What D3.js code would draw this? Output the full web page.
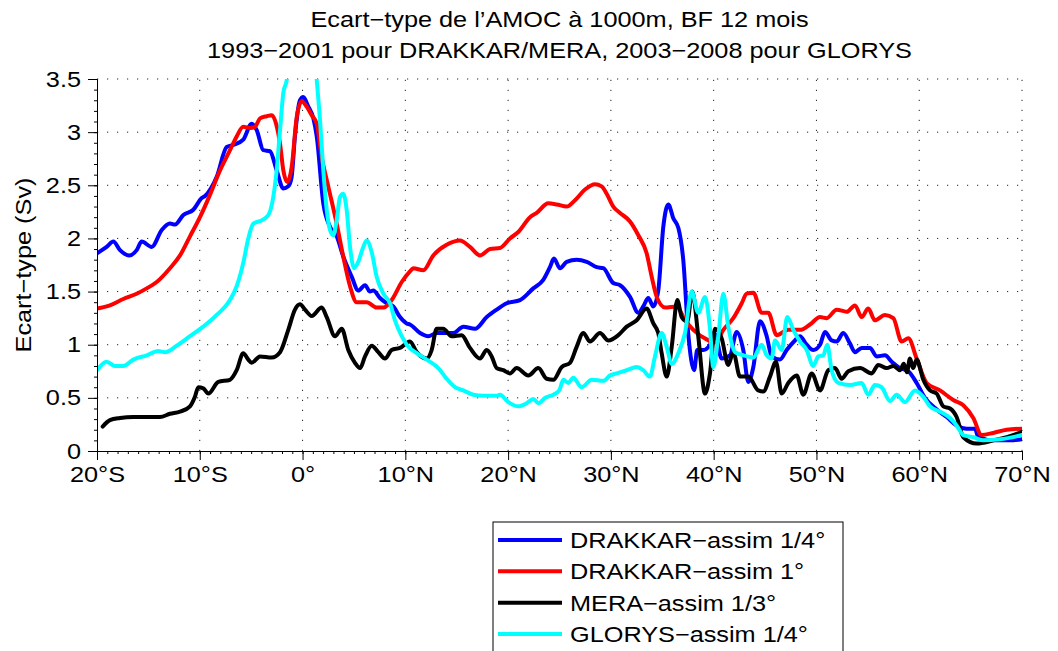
<!DOCTYPE html>
<html>
<head>
<meta charset="utf-8">
<script src="https://cdn.jsdelivr.net/npm/d3@7"></script>
<style>
  html, body { margin: 0; padding: 0; background: #fff; }
  svg { display: block; }
</style>
</head>
<body>
<svg id="chart" width="1058" height="651"></svg>
<script>
// ---- Text and tick labels ----
const titleLines = [
  "Ecart\u2212type de l\u2019AMOC \u00e0 1000m, BF 12 mois",
  "1993\u22122001 pour DRAKKAR/MERA, 2003\u22122008 pour GLORYS"
];
const yAxisLabel = "Ecart\u2212type (Sv)";
const xTicks = [-20, -10, 0, 10, 20, 30, 40, 50, 60, 70];
const xTickLabels = ["20°S", "10°S", "0°", "10°N", "20°N", "30°N", "40°N", "50°N", "60°N", "70°N"];
const yTicks = [0, 0.5, 1, 1.5, 2, 2.5, 3, 3.5];
const yTickLabels = ["0", "0.5", "1", "1.5", "2", "2.5", "3", "3.5"];
const seriesNames = ["DRAKKAR\u2212assim 1/4°", "DRAKKAR\u2212assim 1°", "MERA\u2212assim 1/3°", "GLORYS\u2212assim 1/4°"];
const seriesColors = ["#0000ff", "#ff0000", "#000000", "#00ffff"];

// ---- Standard deviation of the AMOC at 1000 m, [latitude, Sv] ----
const drakkarQuarter = [
  [-20,1.86],[-19.06,1.92],[-18.41,1.97],[-17.76,1.89],[-16.86,1.84],[-16.14,1.89],[-15.65,1.97],[-14.68,1.92],
  [-13.7,2.08],[-12.9,2.14],[-12.41,2.13],[-11.6,2.22],[-10.63,2.27],[-9.81,2.38],[-9.49,2.4],[-8.35,2.58],
  [-7.38,2.86],[-6.74,2.88],[-5.77,2.93],[-4.95,3.08],[-4.46,3.02],[-3.82,2.83],[-3.17,2.82],[-2.52,2.64],
  [-1.87,2.47],[-1.39,2.49],[-1.06,2.58],[-0.74,2.96],[-0.25,3.3],[0.07,3.33],[0.56,3.24],[1.05,3.13],
  [1.38,2.96],[2.02,2.33],[2.67,2.11],[3.32,2.02],[3.96,1.83],[4.78,1.64],[5.42,1.51],[6.08,1.56],
  [6.56,1.5],[6.88,1.51],[7.53,1.44],[8.19,1.39],[8.83,1.36],[9.48,1.26],[10.13,1.2],[10.45,1.19],
  [11.43,1.11],[12.23,1.08],[13.05,1.11],[14.67,1.11],[15.64,1.17],[16.78,1.15],[17.92,1.26],[18.89,1.33],
  [19.86,1.39],[21.16,1.42],[22.45,1.53],[23.42,1.61],[24.07,1.73],[24.46,1.81],[25.05,1.72],[25.7,1.78],
  [26.67,1.8],[27.65,1.78],[28.62,1.73],[29.26,1.72],[30.23,1.58],[30.89,1.56],[31.86,1.45],[32.67,1.3],
  [33.15,1.36],[33.64,1.44],[34.13,1.36],[34.61,1.51],[35.1,2.11],[35.59,2.32],[36.07,2.19],[36.56,2.1],
  [37.04,1.8],[37.53,1.1],[38.1,0.76],[38.4,0.95],[38.99,0.95],[39.64,1.0],[40.13,1.1],[40.78,0.87],
  [41.59,0.9],[42.24,1.12],[42.88,0.95],[43.37,0.65],[43.86,0.79],[44.51,1.22],[45.16,1.08],[45.64,0.89],
  [46.45,0.86],[47.1,0.95],[47.91,1.04],[48.4,1.08],[49.05,1.0],[49.69,0.95],[50.35,1.0],[50.83,1.12],
  [51.48,1.04],[51.97,1.03],[52.61,1.11],[53.27,1.01],[53.75,0.93],[54.4,0.97],[55.21,0.97],[55.86,0.89],
  [56.67,0.9],[57.32,0.84],[58.13,0.78],[58.94,0.75],[59.75,0.64],[60.56,0.5],[61.7,0.39],[62.67,0.32],
  [63.64,0.24],[64.62,0.21],[65.42,0.21],[65.75,0.13],[67.21,0.1],[68.83,0.1],[70,0.11]
];
const drakkarOne = [
  [-20,1.34],[-18.74,1.37],[-17.44,1.43],[-16.14,1.48],[-15.16,1.53],[-14.19,1.59],[-12.9,1.72],[-11.92,1.84],
  [-10.95,2.02],[-9.98,2.2],[-9.01,2.41],[-8.03,2.64],[-7.06,2.83],[-6.41,2.96],[-5.77,3.05],[-5.11,3.04],
  [-4.63,3.05],[-4.14,3.13],[-3.49,3.15],[-3.0,3.16],[-2.58,3.08],[-2.19,2.89],[-1.87,2.64],[-1.48,2.53],
  [-1.06,2.67],[-0.57,3.14],[-0.08,3.29],[0.4,3.24],[0.89,3.16],[1.38,3.08],[1.86,2.77],[2.5,2.49],
  [3.32,2.14],[3.96,1.83],[4.62,1.55],[5.27,1.4],[6.24,1.4],[7.21,1.35],[7.86,1.35],[8.67,1.42],
  [9.65,1.59],[10.45,1.69],[10.77,1.72],[11.75,1.7],[12.72,1.84],[14.02,1.94],[15.32,1.98],[16.29,1.92],
  [17.26,1.84],[18.24,1.9],[19.21,1.91],[20.18,2.0],[20.99,2.06],[22.13,2.2],[22.78,2.24],[23.91,2.33],
  [24.73,2.32],[25.7,2.3],[26.51,2.36],[27.48,2.46],[28.45,2.51],[29.1,2.49],[29.59,2.42],[30.23,2.3],
  [30.89,2.24],[31.86,2.16],[32.67,2.03],[33.48,1.86],[33.97,1.64],[34.46,1.45],[35.27,1.35],[36.4,1.36],
  [37.21,1.23],[38.02,1.14],[39.32,1.05],[40.13,1.02],[40.94,1.14],[41.91,1.25],[42.73,1.39],[43.21,1.48],
  [43.86,1.49],[44.67,1.3],[45.32,1.3],[46.13,1.09],[47.26,1.14],[48.4,1.14],[49.37,1.19],[50.35,1.26],
  [51.0,1.25],[51.97,1.33],[52.94,1.31],[53.75,1.37],[54.4,1.26],[55.04,1.34],[55.69,1.23],[56.67,1.28],
  [57.48,1.25],[58.29,1.03],[58.94,1.06],[59.75,0.87],[60.72,0.64],[62.02,0.57],[63.31,0.48],[64.29,0.43],
  [65.26,0.31],[66.07,0.15],[67.21,0.17],[68.51,0.2],[70,0.21]
];
const meraThird = [
  [-19.45,0.23],[-18.74,0.29],[-17.76,0.31],[-16.47,0.32],[-15.16,0.32],[-13.87,0.32],[-12.9,0.35],[-11.92,0.37],
  [-10.95,0.42],[-10.47,0.51],[-10.14,0.6],[-9.66,0.59],[-9.17,0.54],[-8.2,0.65],[-7.06,0.67],[-6.41,0.76],
  [-5.77,0.92],[-5.28,0.86],[-4.95,0.83],[-4.14,0.89],[-3.0,0.88],[-2.19,0.93],[-1.39,1.14],[-0.74,1.33],
  [-0.25,1.38],[0.24,1.33],[0.89,1.27],[1.86,1.35],[2.35,1.26],[3.16,1.08],[3.81,1.15],[4.45,0.95],
  [5.1,0.83],[5.59,0.78],[6.08,0.89],[6.73,0.99],[7.37,0.93],[8.02,0.87],[8.67,0.95],[9.48,0.97],
  [10.45,1.03],[11.11,0.93],[12.08,0.87],[12.56,0.95],[13.05,1.15],[13.69,1.15],[14.51,1.08],[15.48,1.09],
  [16.29,0.97],[17.26,0.87],[17.92,0.95],[18.4,0.89],[18.89,0.78],[19.53,0.76],[20.18,0.73],[20.83,0.78],
  [21.96,0.71],[22.94,0.78],[23.75,0.68],[24.4,0.67],[25.21,0.79],[26.02,0.83],[26.67,0.98],[27.31,1.11],
  [27.97,1.03],[28.94,1.11],[29.75,1.04],[30.72,1.09],[31.54,1.17],[32.51,1.23],[33.48,1.34],[34.13,1.2],
  [34.61,1.11],[34.94,0.92],[35.43,0.7],[35.92,0.98],[36.46,1.42],[36.89,1.26],[37.43,1.22],[37.92,1.5],
  [38.5,1.08],[39.16,0.54],[39.64,0.73],[40.13,1.15],[40.78,1.06],[41.42,0.81],[41.91,0.93],[42.56,0.7],
  [43.37,0.7],[44.34,0.57],[44.83,0.56],[45.48,0.7],[46.06,0.84],[46.62,0.54],[47.26,0.64],[48.08,0.71],
  [48.72,0.53],[49.54,0.73],[50.35,0.57],[51.15,0.76],[51.81,0.78],[52.45,0.68],[53.1,0.75],[54.24,0.78],
  [55.37,0.73],[56.02,0.81],[56.83,0.78],[57.5,0.8],[58.13,0.76],[58.5,0.82],[58.8,0.74],[59.1,0.87],
  [59.4,0.78],[59.75,0.86],[60.4,0.67],[61.05,0.57],[61.7,0.54],[62.34,0.42],[63.0,0.4],[63.64,0.32],
  [64.29,0.13],[65.59,0.07],[67.21,0.1],[68.83,0.14],[70,0.18]
];
const glorysQuarter = [
  [-20,0.76],[-19.06,0.84],[-18.25,0.8],[-17.44,0.8],[-16.47,0.86],[-15.16,0.9],[-14.04,0.94],[-13.38,0.93],
  [-12.25,0.99],[-10.95,1.08],[-9.66,1.17],[-8.35,1.28],[-7.06,1.42],[-6.41,1.55],[-5.77,1.77],[-5.28,2.0],
  [-4.79,2.14],[-3.98,2.17],[-3.33,2.22],[-2.85,2.39],[-2.52,2.64],[-2.19,3.02],[-1.87,3.37],[-1.54,3.49],
  [-1.0,4.1],[-0.2,4.5],[0.7,4.2],[1.38,3.49],[1.7,3.11],[2.02,2.64],[2.35,2.27],[2.67,2.08],
  [2.99,2.03],[3.32,2.17],[3.64,2.39],[3.96,2.42],[4.29,2.27],[4.62,1.92],[5.01,1.72],[5.42,1.78],
  [5.91,1.92],[6.24,1.98],[6.73,1.87],[7.21,1.64],[7.86,1.48],[8.51,1.39],[8.99,1.23],[9.65,1.08],
  [10.13,1.0],[11.11,0.92],[12.08,0.86],[13.21,0.78],[14.02,0.68],[14.83,0.6],[15.64,0.57],[16.61,0.53],
  [17.59,0.52],[18.89,0.52],[19.21,0.53],[20.02,0.46],[20.99,0.42],[21.81,0.45],[22.45,0.49],[22.94,0.45],
  [23.59,0.5],[24.4,0.53],[24.98,0.57],[25.37,0.67],[25.86,0.64],[26.34,0.69],[27.16,0.6],[28.13,0.67],
  [29.26,0.66],[29.91,0.71],[30.56,0.73],[31.54,0.76],[32.51,0.79],[33.15,0.76],[33.8,0.7],[34.29,0.89],
  [34.94,1.11],[35.43,0.98],[35.92,0.82],[36.56,0.92],[37.21,1.11],[37.86,1.5],[38.5,1.3],[39.16,1.45],
  [39.64,1.15],[39.96,0.79],[40.45,1.08],[40.94,1.48],[41.42,1.17],[42.08,0.93],[42.9,0.9],[43.86,0.88],
  [44.67,1.0],[45.16,0.9],[45.64,0.87],[45.97,1.04],[46.62,0.95],[47.16,1.26],[47.75,1.14],[48.4,1.03],
  [49.05,0.95],[49.69,0.8],[50.18,0.89],[50.67,0.9],[51.05,1.0],[51.48,0.76],[52.13,0.64],[53.27,0.62],
  [54.4,0.64],[55.04,0.53],[55.69,0.62],[56.34,0.6],[57.15,0.47],[57.81,0.53],[58.61,0.46],[59.59,0.57],
  [60.4,0.51],[61.05,0.42],[62.02,0.37],[62.99,0.31],[63.64,0.24],[64.29,0.15],[65.26,0.13],[66.23,0.1],
  [67.86,0.11],[70,0.15]
];
const allSeries = [drakkarQuarter, drakkarOne, meraThird, glorysQuarter];

// ---- Layout ----
const FONT = "'Liberation Sans', Arial, Helvetica, sans-serif";
const FONT_SIZE = 22;
const STRETCH = 1.15;   // glyphs in this figure are drawn slightly wide
const plot = { left: 97, right: 1022, top: 79, bottom: 451 };

const svg = d3.select("#chart");
svg.append("rect").attr("width", 1058).attr("height", 651).attr("fill", "#fff");

const x = d3.scaleLinear().domain([-20, 70]).range([plot.left, plot.right]);
const y = d3.scaleLinear().domain([0, 3.5]).range([plot.bottom, plot.top]);

function wideText(parent, px, py, str, anchor, rotate = 0) {
  return parent.append("text")
    .attr("transform", `translate(${px},${py}) rotate(${rotate}) scale(${STRETCH},1)`)
    .attr("text-anchor", anchor)
    .attr("font-family", FONT)
    .attr("font-size", FONT_SIZE)
    .attr("fill", "#000")
    .text(str);
}

// Dotted grid
const grid = svg.append("g").attr("stroke", "#222").attr("stroke-width", 1)
  .attr("stroke-dasharray", "1.2,8.8");
grid.selectAll("line.gx").data(xTicks.slice(1)).join("line")
  .attr("x1", d => x(d)).attr("x2", d => x(d))
  .attr("y1", plot.bottom).attr("y2", plot.top);
grid.selectAll("line.gy").data(yTicks.slice(1)).join("line")
  .attr("x1", plot.left).attr("x2", plot.right)
  .attr("y1", d => y(d)).attr("y2", d => y(d));

// Curves
svg.append("clipPath").attr("id", "plotClip").append("rect")
  .attr("x", plot.left).attr("y", plot.top)
  .attr("width", plot.right - plot.left).attr("height", plot.bottom - plot.top);

const line = d3.line().x(d => x(d[0])).y(d => y(d[1])).curve(d3.curveMonotoneX);
svg.append("g").attr("clip-path", "url(#plotClip)")
  .selectAll("path").data(allSeries).join("path")
  .attr("d", line)
  .attr("fill", "none")
  .attr("stroke", (d, i) => seriesColors[i])
  .attr("stroke-width", 4)
  .attr("stroke-linejoin", "round")
  .attr("stroke-linecap", "round");

// Axes
function styleAxis(g) {
  g.select(".domain").attr("stroke", "#000").attr("stroke-width", 1);
  g.selectAll(".tick line").attr("stroke", "#000").attr("stroke-width", 1);
}
const xMinor = svg.append("g").attr("transform", `translate(0,${plot.bottom})`)
  .call(d3.axisBottom(x).tickValues(d3.range(-20, 71, 1)).tickSize(3).tickFormat(""));
styleAxis(xMinor);
const yMinor = svg.append("g").attr("transform", `translate(${plot.left},0)`)
  .call(d3.axisLeft(y).tickValues(d3.range(0, 36, 1).map(v => v / 10)).tickSize(3).tickFormat(""));
styleAxis(yMinor);

const xAxis = svg.append("g").attr("transform", `translate(0,${plot.bottom})`)
  .call(d3.axisBottom(x).tickValues(xTicks).tickFormat((d, i) => xTickLabels[i])
    .tickSizeInner(9).tickSizeOuter(0).tickPadding(6));
styleAxis(xAxis);
xAxis.selectAll(".tick text")
  .attr("font-family", FONT).attr("font-size", FONT_SIZE).attr("fill", "#000")
  .attr("transform", `scale(${STRETCH},1)`);

const yAxis = svg.append("g").attr("transform", `translate(${plot.left},0)`)
  .call(d3.axisLeft(y).tickValues(yTicks).tickFormat((d, i) => yTickLabels[i])
    .tickSizeInner(9).tickSizeOuter(0));
styleAxis(yAxis);
yAxis.selectAll(".tick text")
  .attr("font-family", FONT).attr("font-size", FONT_SIZE).attr("fill", "#000")
  .attr("x", -16 / STRETCH)
  .attr("transform", `scale(${STRETCH},1)`);

// Titles
wideText(svg, (plot.left + plot.right) / 2, 27, titleLines[0], "middle");
wideText(svg, (plot.left + plot.right) / 2, 58, titleLines[1], "middle");
wideText(svg, 31, (plot.top + plot.bottom) / 2, yAxisLabel, "middle", -90);

// Legend
const legend = svg.append("g");
legend.append("rect")
  .attr("x", 493).attr("y", 522).attr("width", 350).attr("height", 140)
  .attr("fill", "#fff").attr("stroke", "#000").attr("stroke-width", 1);
const rowY = d3.scaleLinear().domain([0, 3]).range([540, 634]);
seriesNames.forEach((name, i) => {
  legend.append("line")
    .attr("x1", 498).attr("x2", 562)
    .attr("y1", rowY(i)).attr("y2", rowY(i))
    .attr("stroke", seriesColors[i]).attr("stroke-width", 4);
  wideText(legend, 570, rowY(i) + 8, name, "start");
});
</script>
</body>
</html>
